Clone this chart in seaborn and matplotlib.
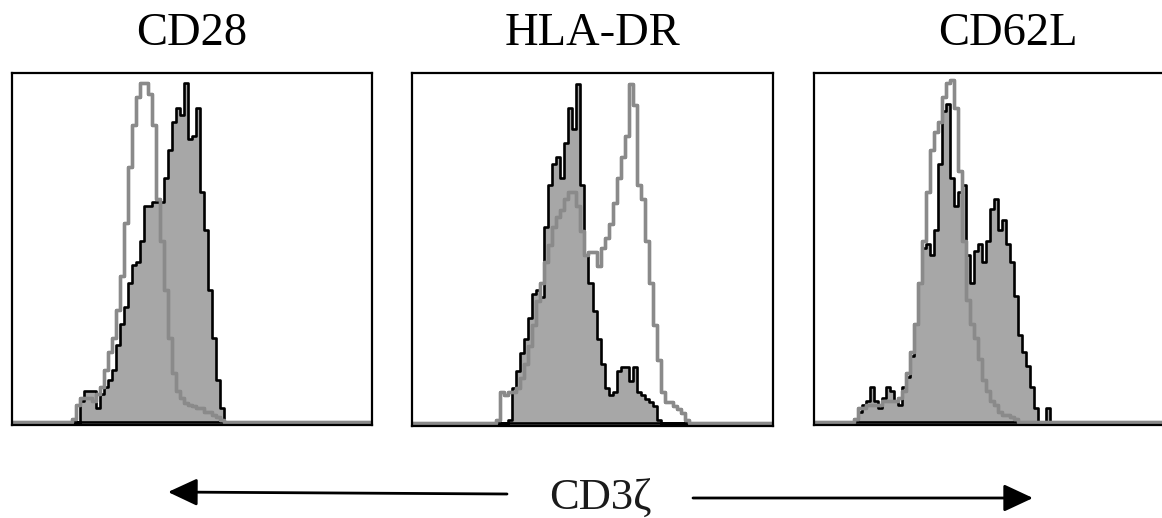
import numpy as np
import pandas as pd
import matplotlib
matplotlib.use("Agg")
import matplotlib.pyplot as plt
import seaborn as sns

sns.set_theme(style="white")
plt.rcParams['font.family'] = ['Liberation Serif', 'DejaVu Serif']

# ---------------- data (percent of panel height, 90 channels per panel) ----------------
titles = ["CD28", "HLA-DR", "CD62L"]
axis_label = "CD3\u03b6"

# filled histograms (black outline, grey fill)
cd28_filled = [0, 0, 0, 0, 0, 0, 0, 0, 0, 0, 0, 0, 0, 0, 0, 0, 0, 6, 9, 9,
               9, 4, 8, 10, 12, 15, 22, 28, 33, 40, 45, 46, 52, 62, 62, 63, 63, 63, 70, 78,
               86, 90, 88, 97, 81, 82, 90, 66, 55, 38, 24, 12, 4, 0, 0, 0, 0, 0, 0, 0,
               0, 0, 0, 0, 0, 0, 0, 0, 0, 0, 0, 0, 0, 0, 0, 0, 0, 0, 0, 0,
               0, 0, 0, 0, 0, 0, 0, 0, 0, 0]
hladr_filled = [0, 0, 0, 0, 0, 0, 0, 0, 0, 0, 0, 0, 0, 0, 0, 0, 0, 0, 0, 0,
                0, 0, 0, 0, 1, 10, 15, 20, 24, 30, 37, 38, 36, 56, 68, 74, 76, 70, 80, 90,
                84, 97, 68, 48, 40, 32, 24, 17, 10, 8, 9, 15, 16, 16, 12, 16, 9, 8, 7, 6,
                5, 1, 0, 0, 0, 0, 0, 0, 0, 0, 0, 0, 0, 0, 0, 0, 0, 0, 0, 0,
                0, 0, 0, 0, 0, 0, 0, 0, 0, 0]
cd62l_filled = [0, 0, 0, 0, 0, 0, 0, 0, 0, 0, 1, 3, 5, 6, 10, 6, 4, 7, 10, 9,
                6, 5, 10, 13, 19, 28, 40, 50, 51, 48, 55, 74, 89, 91, 70, 62, 66, 68, 48, 40,
                49, 51, 46, 52, 61, 64, 55, 58, 51, 46, 36, 25, 20, 16, 10, 4, 0, 0, 4, 0,
                0, 0, 0, 0, 0, 0, 0, 0, 0, 0, 0, 0, 0, 0, 0, 0, 0, 0, 0, 0,
                0, 0, 0, 0, 0, 0, 0, 0, 0, 0]

# open histograms (grey outline)
cd28_open = [0, 0, 0, 0, 0, 0, 0, 0, 0, 0, 0, 0, 0, 0, 0, 1, 5, 7, 7, 7,
             6, 8, 10, 15, 20, 24, 32, 42, 57, 73, 85, 93, 97, 97, 94, 85, 64, 52, 38, 24,
             14, 9, 7, 5.5, 5, 4.5, 4, 4, 3, 3, 2, 1.5, 0.5, 0, 0, 0, 0, 0, 0, 0,
             0, 0, 0, 0, 0, 0, 0, 0, 0, 0, 0, 0, 0, 0, 0, 0, 0, 0, 0, 0,
             0, 0, 0, 0, 0, 0, 0, 0, 0, 0]
hladr_open = [0, 0, 0, 0, 0, 0, 0, 0, 0, 0, 0, 0, 0, 0, 0, 0, 0, 0, 0, 0,
              0, 1, 9, 8, 9, 9, 10, 13, 17, 22, 28, 35, 40, 46, 51, 56, 59, 61, 64, 66,
              66, 62, 55, 48, 49, 49, 45, 50, 53, 57, 63, 70, 76, 82, 97, 91, 68, 64, 52, 40,
              28, 18, 9, 6, 6, 5, 4, 3, 1, 0, 0, 0, 0, 0, 0, 0, 0, 0, 0, 0,
              0, 0, 0, 0, 0, 0, 0, 0, 0, 0]
cd62l_open = [0, 0, 0, 0, 0, 0, 0, 0, 0, 0, 1, 4, 4, 5, 5, 5, 5, 6, 6, 6,
              6, 7, 9, 14, 20, 28, 40, 52, 66, 78, 83, 86, 93, 97, 98, 90, 72, 52, 35, 28,
              24, 18, 12, 9, 6, 5, 3, 2, 2, 1.5, 1, 0, 0, 0, 0, 0, 0, 0, 0, 0,
              0, 0, 0, 0, 0, 0, 0, 0, 0, 0, 0, 0, 0, 0, 0, 0, 0, 0, 0, 0,
              0, 0, 0, 0, 0, 0, 0, 0, 0, 0]

filled_series = [cd28_filled, hladr_filled, cd62l_filled]
open_series = [cd28_open, hladr_open, cd62l_open]

# ---------------- layout ----------------
W, H = 1162, 518
fig = plt.figure(figsize=(W / 100, H / 100), dpi=100)
fig.patch.set_facecolor("white")

panel_px = [(12, 73, 360, 352), (412, 73, 361, 353), (814, 73, 360, 352)]
title_x = [192, 592, 1008]

FILL = "#a7a7a7"
OPEN = "#8a8a8a"

for i, (x0, y0, w, h) in enumerate(panel_px):
    ax = fig.add_axes([x0 / W, 1 - (y0 + h) / H, w / W, h / H])
    n = len(filled_series[i])
    df = pd.DataFrame({
        "channel": np.arange(n) + 0.5,
        "filled": np.array(filled_series[i], dtype=float),
        "open": np.array(open_series[i], dtype=float),
    })
    sns.histplot(data=df, x="channel", weights="open", binwidth=1, binrange=(0, n),
                 element="step", fill=False, color=OPEN, linewidth=2.4, ax=ax)
    sns.histplot(data=df, x="channel", weights="filled", binwidth=1, binrange=(0, n),
                 element="step", fill=True, color=FILL, alpha=1.0,
                 edgecolor="black", linewidth=1.9, ax=ax)
    # open (grey) outline re-drawn above the fill, as in the cytometry overlay
    sns.histplot(data=df[df["open"] > 0], x="channel", weights="open", binwidth=1,
                 binrange=(0, n), element="step", fill=False, color=OPEN,
                 linewidth=2.4, ax=ax)
    ax.set_xlim(0, n)
    ax.set_ylim(-0.8, 100)
    ax.set_xticks([])
    ax.set_yticks([])
    ax.set_xlabel("")
    ax.set_ylabel("")
    ax.set_facecolor("white")
    for sp in ax.spines.values():
        sp.set_visible(True)
        sp.set_color("black")
        sp.set_linewidth(1.6)
    fig.text(title_x[i] / W, 1 - 45 / H, titles[i], ha="center", va="baseline",
             fontsize=33.5, color="black")

# bottom label with arrows
fig.text(600 / W, 1 - 510 / H, axis_label, ha="center", va="baseline",
         fontsize=32, color="#1a1a1a")
arrow_kw = dict(arrowstyle="-|>,head_length=0.9,head_width=0.42",
                mutation_scale=20, color="black", lw=2.0, shrinkA=0, shrinkB=0)
fig.add_artist(matplotlib.patches.FancyArrowPatch(
    (507 / W, 1 - 494 / H), (168 / W, 1 - 492 / H),
    transform=fig.transFigure, **arrow_kw))
fig.add_artist(matplotlib.patches.FancyArrowPatch(
    (693 / W, 1 - 498 / H), (1033 / W, 1 - 498 / H),
    transform=fig.transFigure, **arrow_kw))

fig.savefig("out.png", dpi=100, facecolor="white")
